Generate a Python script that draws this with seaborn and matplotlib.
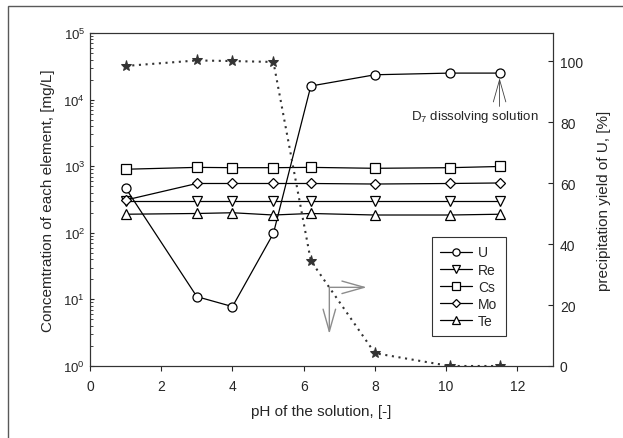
import matplotlib
matplotlib.use('Agg')
import matplotlib.pyplot as plt
import matplotlib.patches as mpatches
import seaborn as sns

sns.set_style('ticks')
plt.rcParams['font.family'] = ['Liberation Sans', 'DejaVu Sans']
plt.rcParams['mathtext.fontset'] = 'custom'
plt.rcParams['mathtext.rm'] = 'Liberation Sans'
plt.rcParams['mathtext.it'] = 'Liberation Sans:italic'

# pH values of the samples
ph = [1, 3, 4, 5.15, 6.2, 8, 10.1, 11.5]

# concentrations, mg/L
conc_U = [470, 11, 7.8, 98, 16000, 23600, 25000, 25000]
conc_Re = [300, 300, 300, 300, 300, 300, 300, 300]
conc_Cs = [900, 960, 950, 950, 960, 930, 950, 990]
conc_Mo = [310, 550, 550, 550, 550, 540, 550, 560]
conc_Te = [190, 195, 200, 185, 195, 185, 185, 190]

# precipitation yield of U, %
yield_U = [98.4, 100.2, 100.0, 99.7, 34.5, 4.2, 0.0, 0.0]

series = [('U', conc_U, 'o'), ('Re', conc_Re, 'v'), ('Cs', conc_Cs, 's'),
          ('Mo', conc_Mo, 'D'), ('Te', conc_Te, '^')]

fig = plt.figure(figsize=(6.23, 4.39), dpi=100)
ax = fig.add_axes([90/623, 1 - 367/439, 463/623, 333/439])

for name, vals, mk in series:
    ms = 5.5 if mk == 'D' else 6.5
    sns.lineplot(x=ph, y=vals, ax=ax, color='black', lw=0.9, marker=mk,
                 markersize=ms, markerfacecolor='white', markeredgecolor='black',
                 markeredgewidth=0.9, label=name)

ax.set_yscale('log')
ax.set_ylim(1, 1e5)
ax.set_xlim(0, 13)
ax.set_xticks(range(0, 13, 2))
ax.set_xlabel('pH of the solution, [-]', fontsize=11, labelpad=8)
ax.set_ylabel('Concemtration of each element, [mg/L]', fontsize=11, labelpad=6)
ax.tick_params(axis='x', direction='out', length=3.5, width=0.8, labelsize=10, pad=6)
ax.tick_params(axis='y', which='major', direction='in', length=3, width=0.8, labelsize=9.5)
ax.tick_params(axis='y', which='minor', direction='in', length=2.2, width=0.6)
for s in ax.spines.values():
    s.set_linewidth(0.8)
    s.set_color('0.2')

leg = ax.legend(loc='lower left', bbox_to_anchor=(0.739, 0.09), borderaxespad=0,
                frameon=True, fancybox=False, fontsize=10, handlelength=2.3,
                labelspacing=0.22, borderpad=0.6, handletextpad=0.4, markerscale=0.8)
leg.get_frame().set_edgecolor('black')
leg.get_frame().set_linewidth(0.8)

ax.text(12.6, 5600, 'D$_7$ dissolving solution', ha='right', va='center',
        fontsize=9.5, color='0.15')
ax.annotate('', xy=(11.5, 21000), xytext=(11.5, 7900),
            arrowprops=dict(arrowstyle='->,head_length=1.6,head_width=0.45',
                            color='0.25', lw=0.6, shrinkA=0, shrinkB=0,
                            mutation_scale=10))

ax2 = ax.twinx()
sns.lineplot(x=ph, y=yield_U, ax=ax2, color='0.2', lw=1.5, ls=(0, (1, 2.2)),
             marker='*', markersize=8, markerfacecolor='0.2', markeredgecolor='0.2')
ax2.set_ylim(0, 109.2)
ax2.set_yticks(range(0, 101, 20))
ax2.set_ylabel('precipitation yield of U, [%]', fontsize=11, labelpad=10)
ax2.tick_params(axis='y', direction='in', length=3.5, width=0.8, labelsize=10, pad=5)
for s in ax2.spines.values():
    s.set_linewidth(0.8)
    s.set_color('0.2')

grey_arrow = dict(arrowstyle='->,head_length=1.6,head_width=0.45', color='0.55',
                  lw=1.0, shrinkA=0, shrinkB=0, mutation_scale=10)
ax2.annotate('', xy=(7.77, 25.8), xytext=(6.72, 25.8), arrowprops=grey_arrow)
ax2.annotate('', xy=(6.72, 10.5), xytext=(6.72, 25.8), arrowprops=grey_arrow)

fig.patches.append(mpatches.Rectangle((8/623, -0.1), 1.2, 1 - 7/439 + 0.1,
                                      transform=fig.transFigure, fill=False,
                                      edgecolor='0.35', lw=1.0))

fig.savefig('out.png', dpi=100)
